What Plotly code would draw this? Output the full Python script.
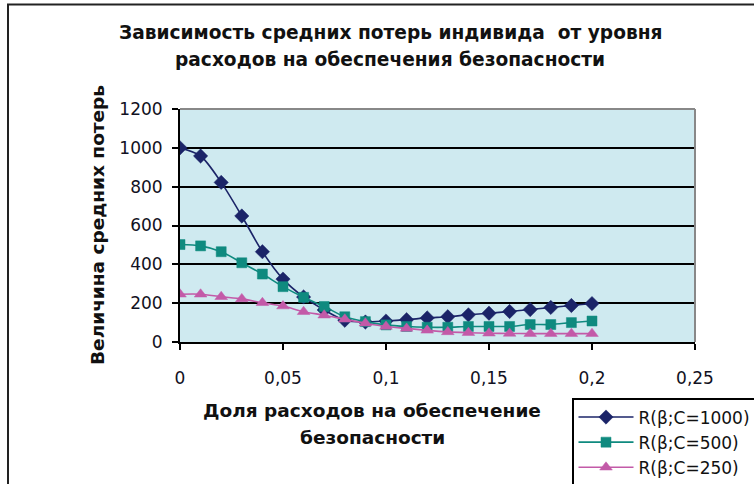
import plotly.graph_objects as go

# ---- data ----
beta = [0, 0.01, 0.02, 0.03, 0.04, 0.05, 0.06, 0.07, 0.08, 0.09, 0.10,
        0.11, 0.12, 0.13, 0.14, 0.15, 0.16, 0.17, 0.18, 0.19, 0.20]
r_c1000 = [1000, 958, 822, 649, 465, 324, 232, 165, 112, 103, 108,
           115, 124, 130, 140, 148, 157, 167, 178, 188, 198]
r_c500 = [502, 495, 465, 408, 350, 285, 230, 183, 130, 105, 88,
          80, 76, 76, 80, 80, 80, 90, 90, 100, 108]
r_c250 = [246, 246, 233, 222, 202, 185, 156, 138, 117, 97, 80,
          70, 60, 52, 48, 45, 44, 43, 43, 43, 43]
series_names = ["R(β;C=1000)", "R(β;C=500)", "R(β;C=250)"]
x_ticks = [0, 0.05, 0.1, 0.15, 0.2, 0.25]
x_tick_text = ["0", "0,05", "0,1", "0,15", "0,2", "0,25"]
y_ticks = [0, 200, 400, 600, 800, 1000, 1200]

title_lines = ["Зависимость средних потерь индивида  от уровня",
               "расходов на обеспечения безопасности"]
x_title_lines = ["Доля расходов на обеспечение", "безопасности"]
y_title = "Величина средних потерь"

# ---- layout geometry (pixels) ----
W, H = 754, 484
L, R, T, B = 180, 695, 109, 342
pw, ph = R - L, B - T


def px(xp):
    return (xp - L) / pw


def py(yp):
    return (B - yp) / ph


colors = ["#1b2468", "#0f8a7f", "#c35aa8"]
symbols = ["diamond", "square", "triangle-up"]
sizes = [11, 10, 11]

fig = go.Figure()
for name, ys, c, s, sz in zip(series_names, [r_c1000, r_c500, r_c250], colors, symbols, sizes):
    fig.add_trace(go.Scatter(
        x=beta, y=ys, name=name, mode="lines+markers",
        line=dict(color=c, width=1.6, shape="spline", smoothing=0.8),
        marker=dict(symbol=s, size=sz, color=c, line=dict(color=c, width=0.5)),
    ))

tick_font = dict(family="DejaVu Sans", size=17, color="#111122")
fig.update_layout(
    width=W, height=H,
    margin=dict(l=L, r=W - R, t=T, b=H - B, autoexpand=False),
    paper_bgcolor="white",
    plot_bgcolor="#cfeaf0",
    showlegend=True,
    legend=dict(x=px(572), y=py(398), xanchor="left", yanchor="top",
                bgcolor="white", bordercolor="black", borderwidth=1.5,
                font=dict(family="DejaVu Sans", size=17, color="#111111"),
                itemwidth=55, tracegroupgap=0),
    xaxis=dict(range=[0, 0.25], tickvals=x_ticks, ticktext=x_tick_text,
               showgrid=False, zeroline=False, showline=True, linecolor="black",
               linewidth=2, ticks="outside", ticklen=6, tickwidth=2, tickcolor="black",
               tickfont=tick_font, ticklabelstandoff=14),
    yaxis=dict(range=[0, 1200], tickvals=y_ticks, showgrid=True, gridcolor="black",
               gridwidth=2, zeroline=False, showline=True, linecolor="black",
               linewidth=2, ticks="outside", ticklen=6, tickwidth=2, tickcolor="black",
               tickfont=tick_font, ticklabelstandoff=6),
)

# plot-area border (grey top/right) and outer chart frame
fig.add_shape(type="line", xref="paper", yref="paper", x0=0, x1=1, y0=1, y1=1,
              line=dict(color="#888888", width=2), layer="above")
fig.add_shape(type="line", xref="paper", yref="paper", x0=1, x1=1, y0=0, y1=1,
              line=dict(color="#888888", width=2), layer="above")
fig.add_shape(type="rect", xref="paper", yref="paper",
              x0=px(8), x1=px(770), y0=py(500), y1=py(4.5),
              line=dict(color="#222222", width=2), layer="above")

title_font = dict(family="DejaVu Sans", size=18.6, color="#111111")
axis_title_font = dict(family="DejaVu Sans", size=18.5, color="#111111")
bold = lambda t: "<b>" + t + "</b>"
fig.add_annotation(text=bold(title_lines[0]), x=px(390), y=py(32), xref="paper", yref="paper",
                   showarrow=False, font=title_font, xanchor="center", yanchor="middle")
fig.add_annotation(text=bold(title_lines[1]), x=px(390), y=py(60), xref="paper", yref="paper",
                   showarrow=False, font=title_font, xanchor="center", yanchor="middle")
fig.add_annotation(text=bold(x_title_lines[0]), x=px(372), y=py(410), xref="paper", yref="paper",
                   showarrow=False, font=axis_title_font, xanchor="center", yanchor="middle")
fig.add_annotation(text=bold(x_title_lines[1]), x=px(372), y=py(437), xref="paper", yref="paper",
                   showarrow=False, font=axis_title_font, xanchor="center", yanchor="middle")
fig.add_annotation(text=bold(y_title), x=px(97), y=py(225), xref="paper", yref="paper",
                   showarrow=False, font=axis_title_font, textangle=-90,
                   xanchor="center", yanchor="middle")

fig.write_html("out.html", config={"displayModeBar": False},
               post_script="document.body.style.margin='0px';")
